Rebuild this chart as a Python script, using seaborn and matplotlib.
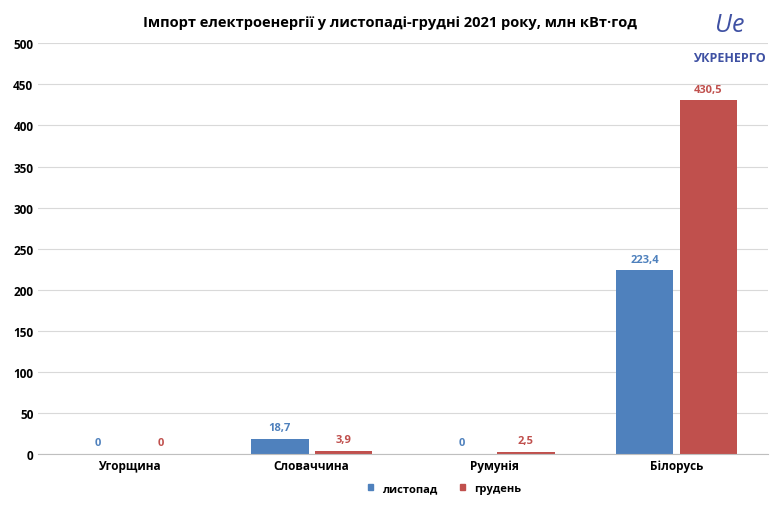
import matplotlib
matplotlib.use("Agg")
import matplotlib.pyplot as plt
import seaborn as sns
import pandas as pd

countries = ["Угорщина", "Словаччина", "Румунія", "Білорусь"]
november = [0, 18.7, 0, 223.4]
december = [0, 3.9, 2.5, 430.5]
yticks = [0, 50, 100, 150, 200, 250, 300, 350, 400, 450, 500]

BLUE = "#4F81BD"
RED = "#C0504D"

df = pd.DataFrame({
    "country": countries * 2,
    "value": november + december,
    "month": ["листопад"] * 4 + ["грудень"] * 4,
})

plt.rcParams["font.family"] = "Open Sans"
fig = plt.figure(figsize=(7.8, 5.1), dpi=100)
ax = fig.add_axes([0.049, 0.108, 0.935, 0.805])

sns.barplot(data=df, x="country", y="value", hue="month", saturation=1,
            palette=[BLUE, RED], width=0.7, gap=0.1, ax=ax, legend=False)

for cont, col in zip(ax.containers, [BLUE, RED]):
    labels = [f"{v:g}".replace(".", ",") for v in cont.datavalues]
    ax.bar_label(cont, labels=labels, padding=4, color=col,
                 fontsize=8, fontweight="bold")

ax.set_ylim(0, 500)
ax.set_yticks(yticks)
ax.set_xlim(-0.5, 3.5)
ax.grid(axis="y", color="#d9d9d9", linewidth=0.8)
ax.set_axisbelow(True)
for s in ["top", "right", "left"]:
    ax.spines[s].set_visible(False)
ax.spines["bottom"].set_color("#bfbfbf")
ax.tick_params(axis="both", length=0, labelsize=8.5)
for t in ax.get_xticklabels() + ax.get_yticklabels():
    t.set_fontweight("bold")
ax.set_xlabel("")
ax.set_ylabel("")

fig.text(0.5, 0.955, "Імпорт електроенергії у листопаді-грудні 2021 року, млн кВт·год",
         ha="center", va="center", fontsize=10.5, fontweight="bold")
fig.text(0.935, 0.885, "УКРЕНЕРГО", ha="center", va="center", fontsize=9,
         color="#3f51a3", fontweight="bold")
fig.text(0.935, 0.95, "Ue", ha="center", va="center", fontsize=18,
         color="#3f51a3", style="italic")

handles = [plt.Rectangle((0, 0), 1, 1, color=c) for c in [BLUE, RED]]
fig.legend(handles, ["листопад", "грудень"], loc="center", ncol=2,
           bbox_to_anchor=(0.57, 0.04), frameon=False,
           handlelength=0.5, handleheight=0.5, prop={"weight": "bold", "size": 8})

fig.savefig("out.png", dpi=100)
